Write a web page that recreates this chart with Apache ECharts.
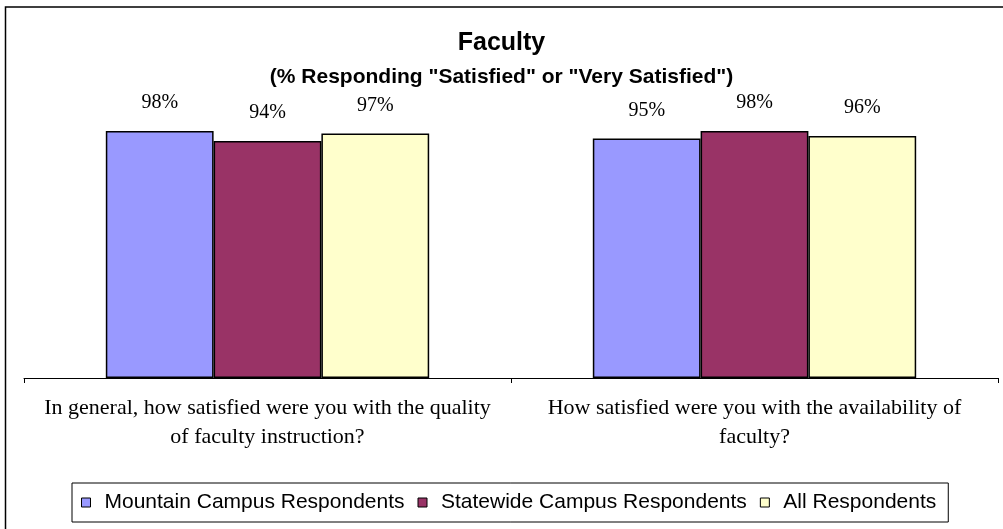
<!DOCTYPE html>
<html>
<head>
<meta charset="utf-8">
<script src="https://cdn.jsdelivr.net/npm/echarts@6/dist/echarts.min.js"></script>
<style>
  html, body { margin: 0; padding: 0; background: #fff; }
  #chart { width: 1003px; height: 529px; }
</style>
</head>
<body>
<div id="chart"></div>
<script>
// 数据
const categories = [
  'In general, how satisfied were you with the quality\nof faculty instruction?',
  'How satisfied were you with the availability of\nfaculty?'
]
const seriesNames = ['Mountain Campus Respondents', 'Statewide Campus Respondents', 'All Respondents']
const mountainValues = [98, 95]
const statewideValues = [94, 98]
const allValues = [97, 96]

const colors = ['#9999FF', '#993366', '#FFFFCC']
const valueLists = [mountainValues, statewideValues, allValues]

const chart = echarts.init(document.getElementById('chart'))

const options = {
  animation: false,
  color: colors,
  title: [
    {
      text: 'Faculty',
      left: 'center',
      top: 26,
      textStyle: { fontFamily: 'Arial, "Liberation Sans"', fontWeight: 'bold', fontSize: 25, color: '#000' }
    },
    {
      text: '(% Responding "Satisfied" or "Very Satisfied")',
      left: 'center',
      top: 62,
      textStyle: { fontFamily: 'Arial, "Liberation Sans"', fontWeight: 'bold', fontSize: 21, color: '#000' }
    }
  ],
  // 外框
  graphic: [
    {
      type: 'rect',
      shape: { x: 5.5, y: 7, width: 1100, height: 600 },
      style: { fill: 'none', stroke: '#000', lineWidth: 1.5 },
      silent: true
    }
  ],
  legend: {
    data: seriesNames,
    left: 72,
    top: 483,
    padding: [9, 12, 9, 9],
    borderColor: '#000',
    borderWidth: 1,
    itemWidth: 9,
    itemHeight: 9,
    itemGap: 13,
    icon: 'rect',
    itemStyle: { borderColor: '#000', borderWidth: 1 },
    textStyle: { fontFamily: 'Arial, "Liberation Sans"', fontSize: 21, color: '#000', padding: [0, 0, 0, 9] }
  },
  grid: {
    left: 24,
    right: 5,
    top: 126,
    bottom: 151
  },
  xAxis: {
    type: 'category',
    data: categories,
    axisLine: { lineStyle: { color: '#000', width: 1 } },
    axisTick: { show: true, length: 5, lineStyle: { color: '#000' } },
    axisLabel: {
      fontFamily: '"Liberation Serif", "Times New Roman", serif',
      fontSize: 22,
      lineHeight: 29,
      color: '#000',
      margin: 16,
      interval: 0
    }
  },
  yAxis: {
    type: 'value',
    min: 0,
    max: 100,
    show: false,
    splitLine: { show: false }
  },
  series: seriesNames.map((name, i) => ({
    name,
    type: 'bar',
    data: valueLists[i],
    barGap: '0%',
    barCategoryGap: '33.6%',
    itemStyle: { borderColor: '#000', borderWidth: 1.5 },
    label: {
      show: true,
      position: 'top',
      distance: 18,
      formatter: '{c}%',
      fontFamily: '"Liberation Serif", "Times New Roman", serif',
      fontSize: 20,
      color: '#000'
    }
  }))
}

chart.setOption(options)
</script>
</body>
</html>
